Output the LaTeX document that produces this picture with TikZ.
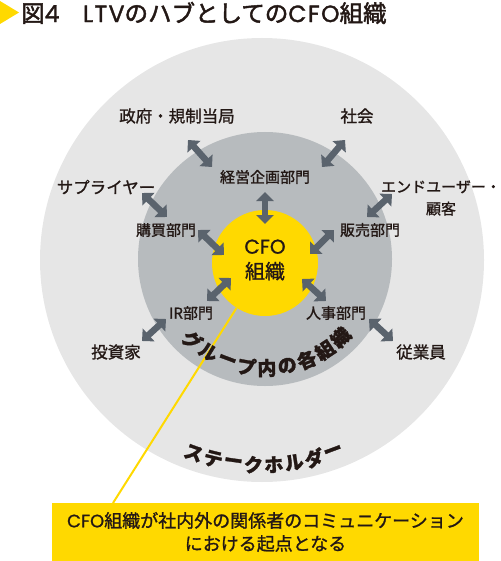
\documentclass[tikz,border=0pt]{standalone}
\usepackage{fontspec}
\setmainfont{Noto Sans CJK JP}[FakeBold=1.2]
\newfontfamily\titlefont{Noto Sans CJK JP}[FakeBold=2]
\newfontfamily\heavyfont{Noto Sans CJK JP}[FakeBold=1.5]
\newfontfamily\latfont{Poppins}[FakeBold=1]
\newfontfamily\titlelat{Poppins}[FakeBold=1.5, LetterSpace=6]
\usetikzlibrary{arrows.meta}
\definecolor{outergray}{HTML}{E6E6E6}
\definecolor{midgray}{HTML}{B7BBBE}
\definecolor{cfoyellow}{HTML}{FFD900}
\definecolor{arrowgray}{HTML}{5A636D}
\definecolor{ink}{HTML}{231815}
\begin{document}
\begin{tikzpicture}[x=1pt,y=-1pt,
  lbl/.style={text=ink, font=\fontsize{16.5}{19}\selectfont, inner sep=0pt, align=center},
  ilbl/.style={text=ink, font=\fontsize{15}{18}\selectfont, inner sep=0pt},
  curv/.style={text=ink, font=\heavyfont\fontsize{19}{20}\selectfont\bfseries, inner sep=0pt},
  biarrow/.style={draw=arrowgray, line width=6.5pt,
    {Triangle[width=17pt,length=9pt]}-{Triangle[width=17pt,length=9pt]}},
  ring/.style={circle, inner sep=0pt, draw=none}]
\useasboundingbox (0,0) rectangle (500,561);
% title
\fill[cfoyellow] (0,1) -- (19,12.5) -- (0,24) -- cycle;
\node[anchor=west, text=ink, inner sep=0pt, font=\titlefont\fontsize{23.5}{25}\selectfont] (title) at (21,13)
  {図{\titlelat 4}　{\titlelat LTV}のハブとしての{\titlelat CFO}組織};
% circles
\node[ring, fill=outergray, minimum size=444pt] (outer) at (262,260) {};
\node[ring, fill=midgray, minimum size=254pt] (mid) at (265,259) {};
% leader line
\coordinate (lead) at (113,503);
\node[ring, fill=cfoyellow, minimum size=106pt] (cfo) at (265,263) {};
\draw[cfoyellow, line width=2pt] (cfo) -- (lead);
\node[text=ink, inner sep=0pt, align=center, font=\fontsize{20}{25}\selectfont] (cfotext) at (265,260) {{\latfont CFO}\\組織};
% labels outer
\node[lbl] (gov) at (177,116) {政府・規制当局};
\node[lbl] (soc) at (357,116) {社会};
\node[lbl] (sup) at (106,187) {サプライヤー};
\node[lbl, font=\fontsize{15}{22}\selectfont] (end) at (441,198) {エンドユーザー・\\顧客};
\node[lbl] (inv) at (116,352) {投資家};
\node[lbl] (emp) at (421,352) {従業員};
% labels inner
\node[ilbl] (plan) at (265,177) {経営企画部門};
\node[ilbl] (buy) at (166,230) {購買部門};
\node[ilbl] (sales) at (370,230) {販売部門};
\node[ilbl] (ir) at (191,313) {IR部門};
\node[ilbl] (hr) at (336,313) {人事部門};
% arrows
\coordinate (a1) at (188,140); \coordinate (b1) at (212,167);
\coordinate (a2) at (345,140); \coordinate (b2) at (322,167);
\coordinate (a3) at (265,192); \coordinate (b3) at (265,224);
\coordinate (a4) at (142,193); \coordinate (b4) at (167,217);
\coordinate (a5) at (392,194); \coordinate (b5) at (367,217);
\coordinate (a6) at (198,230); \coordinate (b6) at (224,255);
\coordinate (a7) at (334,230); \coordinate (b7) at (310,254);
\coordinate (a8) at (207,301); \coordinate (b8) at (231,278);
\coordinate (a9) at (326,301); \coordinate (b9) at (302,279);
\coordinate (a10) at (142,341); \coordinate (b10) at (166,319);
\coordinate (a11) at (393,341); \coordinate (b11) at (369,319);
\foreach \k in {1,...,11} { \draw[biarrow] (a\k) -- (b\k); }
% curved texts
\foreach \c [count=\i from 0] in {グ,ル,ー,プ,内,の,各,組,織} {
  \pgfmathsetmacro\t{132-10.75*\i}
  \node[curv, rotate=90-\t] (g\i) at ({265+109*cos(\t)},{259+109*sin(\t)}) {\c};
}
\foreach \c [count=\i from 0] in {ス,テ,ー,ク,ホ,ル,ダ,ー} {
  \pgfmathsetmacro\t{109.5-5.7*\i}
  \node[curv, rotate=90-\t] (s\i) at ({262+205*cos(\t)},{260+205*sin(\t)}) {\c};
}
% callout
\node[fill=cfoyellow, minimum width=427pt, minimum height=58pt, inner sep=0pt, align=center,
  text=ink, font=\fontsize{18}{23}\selectfont] (box) at (265.5,532)
  {{\latfont CFO}組織が社内外の関係者のコミュニケーション\\における起点となる};
\end{tikzpicture}
\end{document}
